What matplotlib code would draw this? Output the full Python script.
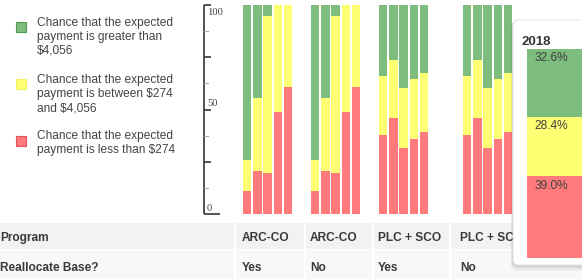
import matplotlib
matplotlib.use("Agg")
import matplotlib.pyplot as plt
from matplotlib.patches import Rectangle, FancyBboxPatch
import numpy as np

plt.rcParams['text.parse_math'] = False

# ---------------- data ----------------
years = [2014, 2015, 2016, 2017, 2018]
programs = ["ARC-CO", "ARC-CO", "PLC + SCO", "PLC + SCO"]
reallocate = ["Yes", "No", "Yes", "No"]

red_vals = [
    [11.0, 20.5, 19.4, 48.8, 61.0],
    [11.0, 20.5, 19.4, 48.8, 61.0],
    [37.6, 46.0, 31.5, 36.0, 39.0],
    [37.6, 46.0, 31.5, 36.0, 39.0],
]
yellow_vals = [
    [15.0, 35.2, 75.3, 51.2, 39.0],
    [15.0, 35.2, 75.3, 51.2, 39.0],
    [28.3, 27.6, 28.8, 28.8, 28.4],
    [28.3, 27.6, 28.8, 28.8, 28.4],
]
green_vals = [
    [74.0, 44.3, 5.3, 0.0, 0.0],
    [74.0, 44.3, 5.3, 0.0, 0.0],
    [34.1, 26.4, 39.7, 35.2, 32.6],
    [34.1, 26.4, 39.7, 35.2, 32.6],
]

popup_year = "2018"
popup_red, popup_yellow, popup_green = 39.0, 28.4, 32.6

legend_labels = [
    "Chance that the expected\npayment is greater than\n$4,056",
    "Chance that the expected\npayment is between $274\nand $4,056",
    "Chance that the expected\npayment is less than $274",
]
row_labels = ["Program", "Reallocate Base?"]

major_ticks = [0, 25, 50, 75, 100]
minor_ticks = [12.5, 37.5, 62.5, 87.5]
tick_labels = {0: "0", 50: "50", 100: "100"}

# ---------------- style / layout ----------------
W, H = 582, 279
GREEN = "#7dbd7d"
YELLOW = "#ffff73"
RED = "#ff7b7b"
TXT = "#3a3a3a"

group_left = [243, 311, 379, 463]
bar_step = 10.2
bar_w = 8.4
col_text_x = [242, 310, 378, 460]
col_sep_x = [235, 305, 373, 450]

fig = plt.figure(figsize=(W / 100, H / 100), dpi=100)
fig.patch.set_facecolor("white")

# background / layout axes in pixel coordinates
bg = fig.add_axes([0, 0, 1, 1])
bg.set_xlim(0, W)
bg.set_ylim(H, 0)
bg.axis("off")

# table rows
bg.add_patch(Rectangle((0, 223), W, 26, color="#f2f2f2", lw=0))
bg.add_patch(Rectangle((0, 250), W, 29, color="#f8f8f8", lw=0))
for x in col_sep_x:
    bg.plot([x, x], [223, 279], color="white", lw=1.5)

row_y = [238, 268]
for ry, lab in zip(row_y, row_labels):
    bg.text(0.5, ry, lab, ha="left", va="center", fontsize=8.6,
            fontweight="bold", color=TXT, family="Liberation Sans")
for x, p, r in zip(col_text_x, programs, reallocate):
    bg.text(x, row_y[0], p, ha="left", va="center", fontsize=8.6,
            fontweight="bold", color=TXT, family="Liberation Sans")
    bg.text(x, row_y[1], r, ha="left", va="center", fontsize=8.6,
            fontweight="bold", color=TXT, family="Liberation Sans")

# legend
leg_colors = [(GREEN, "#4f9a4f"), (YELLOW, "#f0f060"), (RED, "#e05555")]
leg_sq_y = [21.5, 79, 135.5]
leg_txt_y = [17, 74.5, 130.5]
for (fc, ec), sy, ty, lab in zip(leg_colors, leg_sq_y, leg_txt_y, legend_labels):
    bg.add_patch(Rectangle((15.5, sy), 10, 10, fc=fc, ec=ec, lw=0.8))
    bg.text(37, ty, lab, ha="left", va="top", fontsize=8.6, color="#444444",
            family="Liberation Sans", linespacing=1.22)

# main bar axes
ax = fig.add_axes([0, (H - 214) / H, 1, 209 / H])
ax.set_xlim(0, W)
ax.set_ylim(0, 100)
ax.axis("off")

for g in range(len(programs)):
    x = group_left[g] + bar_step * np.arange(len(years))
    r = np.array(red_vals[g])
    y = np.array(yellow_vals[g])
    gr = np.array(green_vals[g])
    ax.bar(x, r, width=bar_w, align="edge", color=RED, lw=0)
    ax.bar(x, y, bottom=r, width=bar_w, align="edge", color=YELLOW, lw=0)
    ax.bar(x, gr, bottom=r + y, width=bar_w, align="edge", color=GREEN, lw=0)

# hand-drawn style y axis
sx = 204
ax.plot([sx, sx], [0, 100], color="#444444", lw=1.3, clip_on=False,
        solid_capstyle="butt")
for v in major_ticks:
    length = 16 if v == 0 else 7
    ax.plot([sx, sx + length], [v, v], color="#444444", lw=1.3,
            clip_on=False, solid_capstyle="butt")
for v in minor_ticks:
    ax.plot([sx, sx + 4], [v, v], color="#aaaaaa", lw=0.8, clip_on=False)
for v, lab in tick_labels.items():
    if v == max(major_ticks):
        ax.text(sx + 3, v - 1.5, lab, ha="left", va="top", fontsize=7.6,
                color="#444444", family="Liberation Serif")
    else:
        ax.text(sx + 3, v + 0.6, lab, ha="left", va="bottom", fontsize=7.6,
                color="#444444", family="Liberation Serif")

# popup tooltip
pop = fig.add_axes([0, 0, 1, 1])
pop.set_xlim(0, W)
pop.set_ylim(H, 0)
pop.axis("off")
for i, a in enumerate([0.05, 0.05, 0.04, 0.03]):
    d = i + 1
    pop.add_patch(FancyBboxPatch((513 - d * 0.6, 20 + d * 0.3), 100 + d, 245 + d * 1.2,
                                 boxstyle="round,pad=0,rounding_size=6",
                                 fc="black", ec="none", alpha=a))
pop.add_patch(FancyBboxPatch((513, 20), 100, 245,
                             boxstyle="round,pad=0,rounding_size=6",
                             fc="white", ec="#e2e2e2", lw=0.6))
pop.text(521, 42, popup_year, ha="left", va="center", fontsize=9.5,
         fontweight="bold", color="#333333", family="Liberation Sans")

pbar = fig.add_axes([527 / W, (H - 258) / H, (W - 527) / W, 209 / H])
pbar.set_xlim(0, 1)
pbar.set_ylim(0, 100)
pbar.axis("off")
pvals = [popup_red, popup_yellow, popup_green]
pcols = [RED, YELLOW, GREEN]
bottom = 0
for v, c in zip(pvals, pcols):
    pbar.bar([0], [v], bottom=bottom, width=1.0, align="edge", color=c, lw=0)
    pbar.text(0.14, bottom + v - 1.6, f"{v:.1f}%", ha="left", va="top",
              fontsize=8.6, color="#404040", family="Liberation Sans")
    bottom += v

fig.savefig("out.png", dpi=100, facecolor="white")
